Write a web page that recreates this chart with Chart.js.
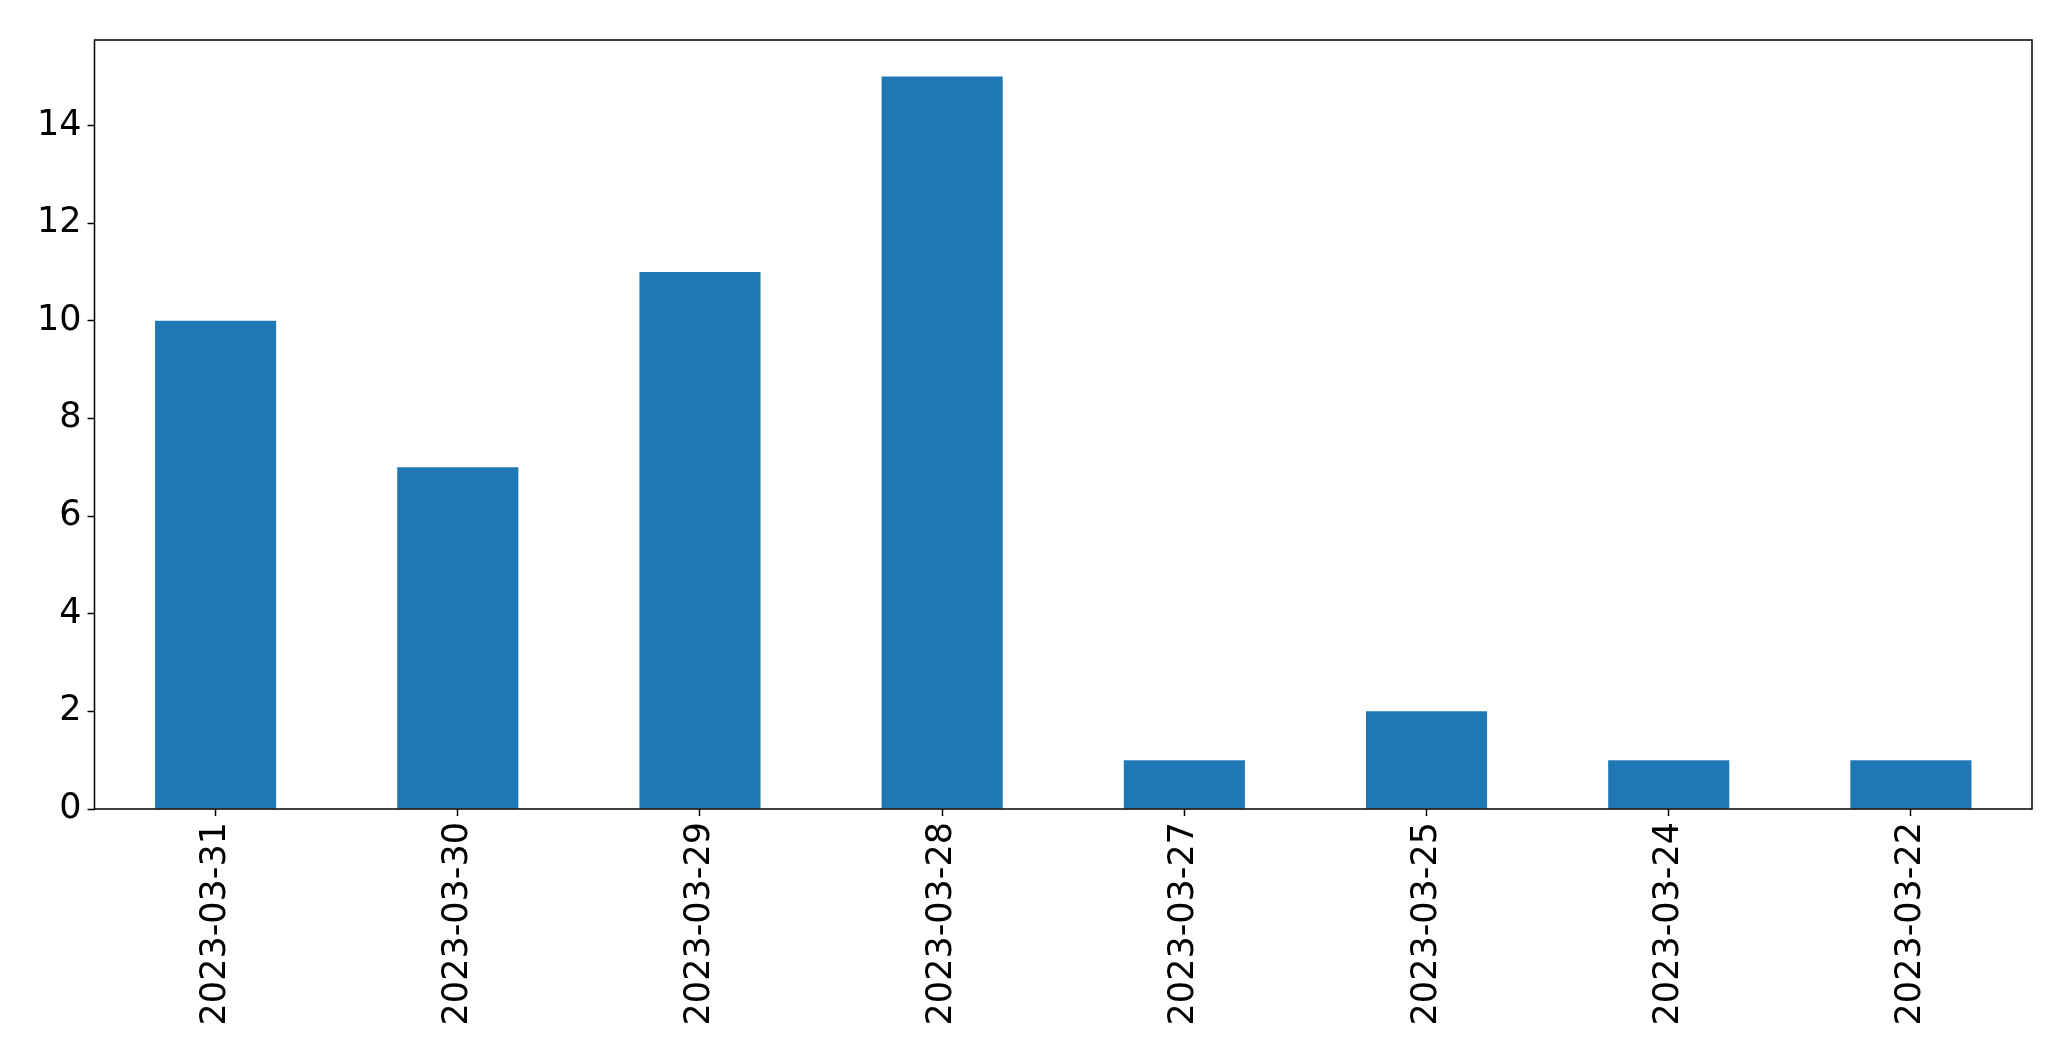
<!DOCTYPE html>
<html>
<head>
<meta charset="utf-8">
<script src="https://cdn.jsdelivr.net/npm/chart.js@4"></script>
<style>
  html, body { margin: 0; padding: 0; background: #fff; }
  #wrap { width: 2071px; height: 1061px; }
</style>
</head>
<body>
<div id="wrap"><canvas id="bar" width="2071" height="1061"></canvas></div>
<script>
// dates in the order they appear on the chart
var dates = ["2023-03-31", "2023-03-30", "2023-03-29", "2023-03-28",
             "2023-03-27", "2023-03-25", "2023-03-24", "2023-03-22"];
var counts = [10, 7, 11, 15, 1, 2, 1, 1];
var yTicks = [0, 2, 4, 6, 8, 10, 12, 14];

// draw the box around the plot area
var frame = {
  id: "frame",
  afterDraw: function (chart) {
    var a = chart.chartArea;
    var ctx = chart.ctx;
    ctx.save();
    ctx.strokeStyle = "#000";
    ctx.lineWidth = 1.5;
    ctx.strokeRect(a.left, a.top, a.right - a.left, a.bottom - a.top);
    ctx.restore();
  }
};

var ctx = document.getElementById("bar").getContext("2d");
new Chart(ctx, {
  type: "bar",
  data: {
    labels: dates,
    datasets: [{
      data: counts,
      backgroundColor: "#1f77b4",
      categoryPercentage: 0.5,
      barPercentage: 1.0
    }]
  },
  options: {
    responsive: false,
    animation: false,
    layout: { padding: { left: 0, top: 40, right: 39, bottom: 0 } },
    plugins: { legend: { display: false }, tooltip: { enabled: false } },
    scales: {
      x: {
        grid: { display: true, offset: false, drawOnChartArea: false, tickLength: 7, tickColor: "#000", tickWidth: 1.5 },
        border: { display: false },
        ticks: {
          minRotation: 90, maxRotation: 90, autoSkip: false,
          color: "#000", padding: 6,
          font: { family: "DejaVu Sans", size: 35 }
        },
        afterFit: function (scale) { scale.height = 252; }
      },
      y: {
        min: 0, max: 15.75,
        grid: { display: true, drawOnChartArea: false, tickLength: 7, tickColor: "#000", tickWidth: 1.5 },
        border: { display: false },
        ticks: {
          stepSize: 2, color: "#000", padding: 6,
          font: { family: "DejaVu Sans", size: 35 }
        },
        afterBuildTicks: function (scale) {
          scale.ticks = yTicks.map(function (v) { return { value: v }; });
        },
        afterFit: function (scale) { scale.width = 94.5; }
      }
    }
  },
  plugins: [frame]
});
</script>
</body>
</html>
